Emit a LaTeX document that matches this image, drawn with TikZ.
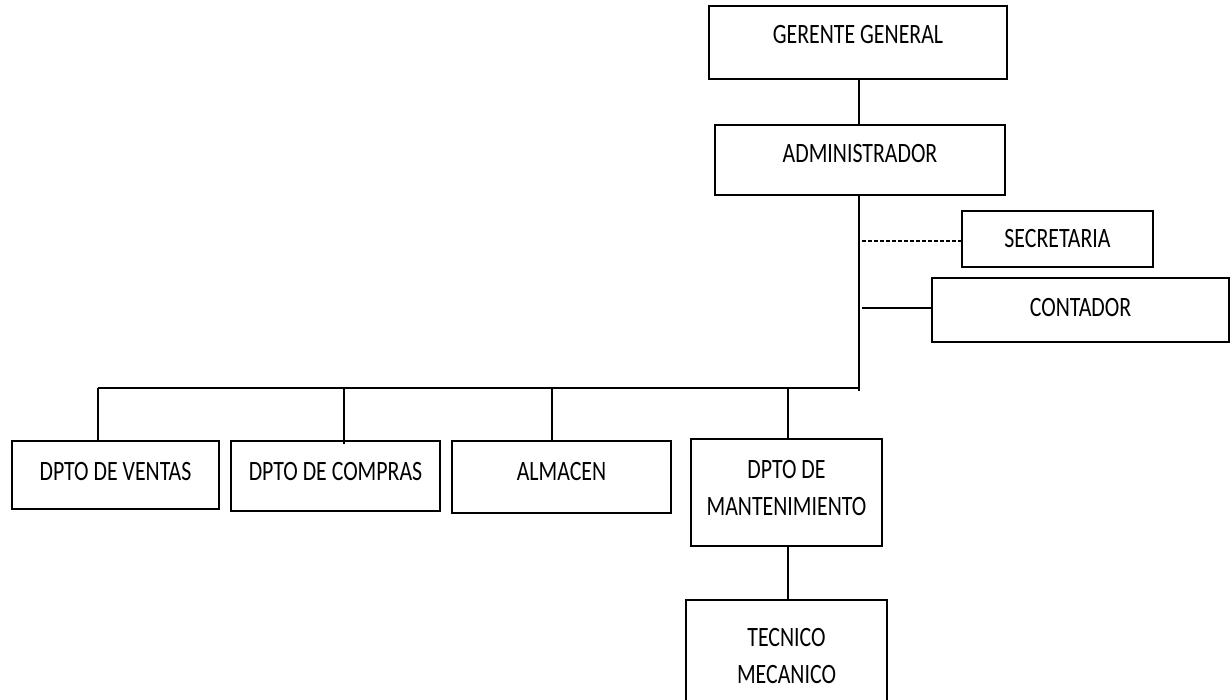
\documentclass[tikz,border=0pt]{standalone}
\usepackage{fontspec}
\setmainfont{Carlito}[FakeStretch=0.78]
\begin{document}
\begin{tikzpicture}[x=1pt,y=-1pt]
  \tikzset{BoxStyle/.style = {draw,
                              line width   = 1.4pt,
                              align        = center,
                              inner sep    = 0pt,
                              font         = \fontsize{28}{37}\selectfont}}
  \tikzset{EdgeStyle/.style   = {line width = 1.3pt}}
  \tikzset{EdgeStyleDash/.style   = {line width = 1.3pt,
                              dash pattern = on 4pt off 2pt}}

\useasboundingbox (0,0) rectangle (1232,700);
\clip (0,0) rectangle (1232,700);

\node[BoxStyle, minimum width=298pt, minimum height=73pt, text depth=16pt] (GG) at (858,42.5) {GERENTE GENERAL};
\node[BoxStyle, minimum width=290pt, minimum height=70pt, text depth=14pt] (AD) at (860,160) {ADMINISTRADOR};
\node[BoxStyle, minimum width=191pt, minimum height=56pt] (SE) at (1057.5,239) {SECRETARIA};
\node[BoxStyle, minimum width=297pt, minimum height=64pt, text depth=6pt] (CO) at (1080.5,310) {CONTADOR};
\node[BoxStyle, minimum width=207pt, minimum height=68pt, text depth=8pt] (D1) at (115.5,475) {DPTO DE VENTAS};
\node[BoxStyle, minimum width=209pt, minimum height=70pt, text depth=10pt] (D2) at (335.5,476) {DPTO DE COMPRAS};
\node[BoxStyle, minimum width=219pt, minimum height=72pt, text depth=12pt] (D3) at (561.5,477) {ALMACEN};
\node[BoxStyle, minimum width=191pt, minimum height=107pt, text depth=10pt] (D4) at (786.5,492.5) {DPTO DE\\MANTENIMIENTO};
\node[BoxStyle, minimum width=201pt, minimum height=124pt, text depth=12pt] (TM) at (786.5,662) {TECNICO\\MECANICO};

\coordinate (T1) at (859,391);
\coordinate (B0) at (859,388);
\coordinate (B1) at (98,388);
\coordinate (B2) at (344,388);
\coordinate (B3) at (552,388);
\coordinate (B4) at (788,388);
\coordinate (S1) at (862,241);
\coordinate (C1) at (862,308);

\draw[EdgeStyle] (GG.south -| T1) -- (AD.north -| T1);
\draw[EdgeStyle] (AD.south -| T1) -- (T1);
\draw[EdgeStyleDash] (S1) -- (S1 -| SE.west);
\draw[EdgeStyle] (C1) -- (C1 -| CO.west);
\draw[EdgeStyle] (B1) -- (B0);
\draw[EdgeStyle] (B1) -- (B1 |- D1.north);
\draw[EdgeStyle] (B2) -- ([yshift=-4pt]B2 |- D2.north);
\draw[EdgeStyle] (B3) -- (B3 |- D3.north);
\draw[EdgeStyle] (B4) -- (B4 |- D4.north);
\draw[EdgeStyle] (D4.south -| B4) -- (B4 |- TM.north);

\end{tikzpicture}
\end{document}
